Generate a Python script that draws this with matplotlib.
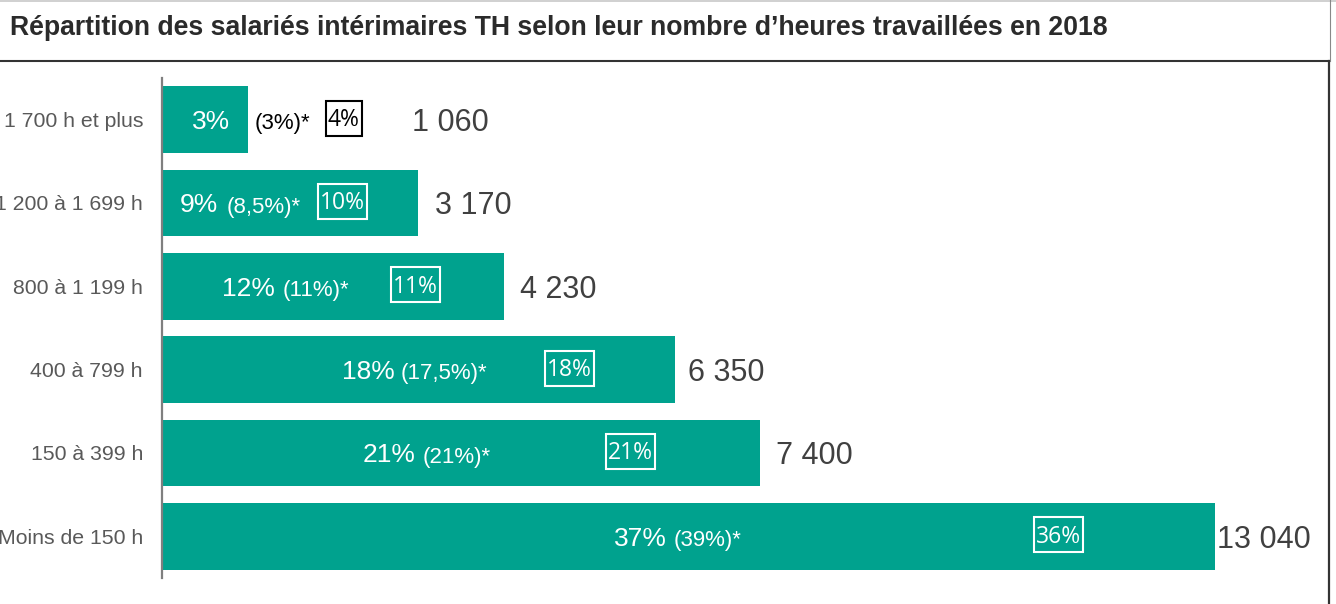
import matplotlib
matplotlib.use("Agg")
from matplotlib import pyplot as plt
from matplotlib.lines import Line2D
from matplotlib.patches import Rectangle

categories = ["1 700 h et plus", "1 200 à 1 699 h", "800 à 1 199 h",
              "400 à 799 h", "150 à 399 h", "Moins de 150 h"]
counts = [1060, 3170, 4230, 6350, 7400, 13040]
share_2018 = ["3%", "9%", "12%", "18%", "21%", "37%"]
share_prev = ["(3%)*", "(8,5%)*", "(11%)*", "(17,5%)*", "(21%)*", "(39%)*"]
share_box = ["4%", "10%", "11%", "18%", "21%", "36%"]

title = "Répartition des salariés intérimaires TH selon leur nombre d’heures travaillées en 2018"

# layout tweaks, in pixels from the axis line
main_x = [30, 18, 60, 180, 201, 452]
prev_gap = [25, 8, 8, 6, 7, 7]
box_x = [166, 158, 231, 385, 446, 874]
count_gap = [164, 17, 16, 13, 16, 2]

GREEN = "#00a28e"
W, H = 1336, 604
PT = 0.72  # px -> pt at dpi 100
BOX_FS = 16.5
DIGIT_H = 0.714 * BOX_FS / PT  # digit height of the boxed font, px

plt.rcParams["font.family"] = ["Liberation Sans", "DejaVu Sans"]

fig = plt.figure(figsize=(W / 100, H / 100), dpi=100)
ax = fig.add_axes([162 / W, 26 / H, (1330 - 162) / W, 500 / H])

y = list(range(len(categories)))
ax.barh(y, counts, height=0.8, color=GREEN)
ax.set_xlim(0, (1330 - 162) / 0.08075)
ax.set_ylim(len(categories) - 0.5, -0.5)

ax.set_yticks(y, categories)
ax.tick_params(axis="y", length=0, pad=19 * PT, labelsize=15.3, labelcolor="#595959")
ax.set_xticks([])
for s in ["top", "right", "bottom"]:
    ax.spines[s].set_visible(False)
ax.spines["left"].set_color("#7f7f7f")
ax.spines["left"].set_linewidth(1.6)

mains = []
boxes = []
for i in y:
    t = ax.annotate(share_2018[i], xy=(0, i), xytext=(main_x[i] * PT, -9.5 * PT),
                    textcoords="offset points", ha="left", va="baseline",
                    fontsize=19, color="white")
    mains.append(t)
    col = "black" if i == 0 else "white"
    b = ax.annotate(share_box[i], xy=(0, i),
                    xytext=(box_x[i] * PT, -(DIGIT_H / 2 - 2) * PT),
                    textcoords="offset points", ha="left", va="baseline",
                    fontsize=BOX_FS, family="Open Sans", color=col)
    boxes.append(b)
    ax.annotate(f"{counts[i]:,}".replace(",", " "), xy=(counts[i], i),
                xytext=(count_gap[i] * PT, -11.5 * PT), textcoords="offset points",
                ha="left", va="baseline", fontsize=22, color="#404040")

fig.canvas.draw()
r = fig.canvas.get_renderer()
inv = fig.transFigure.inverted()
for i, t in enumerate(mains):
    ext = t.get_window_extent(r)
    x0 = ax.transData.transform((0, i))[0]
    col = "black" if i == 0 else "white"
    ax.annotate(share_prev[i], xy=(0, i),
                xytext=((ext.x1 - x0 + prev_gap[i]) * PT, -9.5 * PT),
                textcoords="offset points", ha="left", va="baseline",
                fontsize=16, color=col)
    # frame around the boxed share, centred on its digits
    be = boxes[i].get_window_extent(r)
    base = ax.transData.transform((0, i))[1] - (DIGIT_H / 2 - 2)
    cy = base + DIGIT_H / 2 - 0.5
    (fx0, fy0), (fx1, fy1) = inv.transform([(be.x0 - 2, cy - 17.5), (be.x1 + 2, cy + 17.5)])
    fig.add_artist(Rectangle((fx0, fy0), fx1 - fx0, fy1 - fy0, transform=fig.transFigure,
                             fill=False, ec=col, lw=1.5))

# title frame
fig.text(10 / W, 1 - 35 / H, title, fontsize=19.2, fontweight="bold",
         color="#2b2b2b", ha="left", va="baseline")
fig.add_artist(Line2D([0, 1], [1 - 0.5 / H, 1 - 0.5 / H], color="#c8c8c8", lw=1.2))
fig.add_artist(Line2D([0, 1329 / W], [1 - 61 / H, 1 - 61 / H], color="#333333", lw=1.5))
fig.add_artist(Line2D([1329.5 / W, 1329.5 / W], [1, 1 - 61 / H], color="#888888", lw=0.8))
fig.add_artist(Line2D([1329 / W, 1329 / W], [0, 1 - 61 / H], color="#333333", lw=1.6))

fig.savefig("out.png", dpi=100)
